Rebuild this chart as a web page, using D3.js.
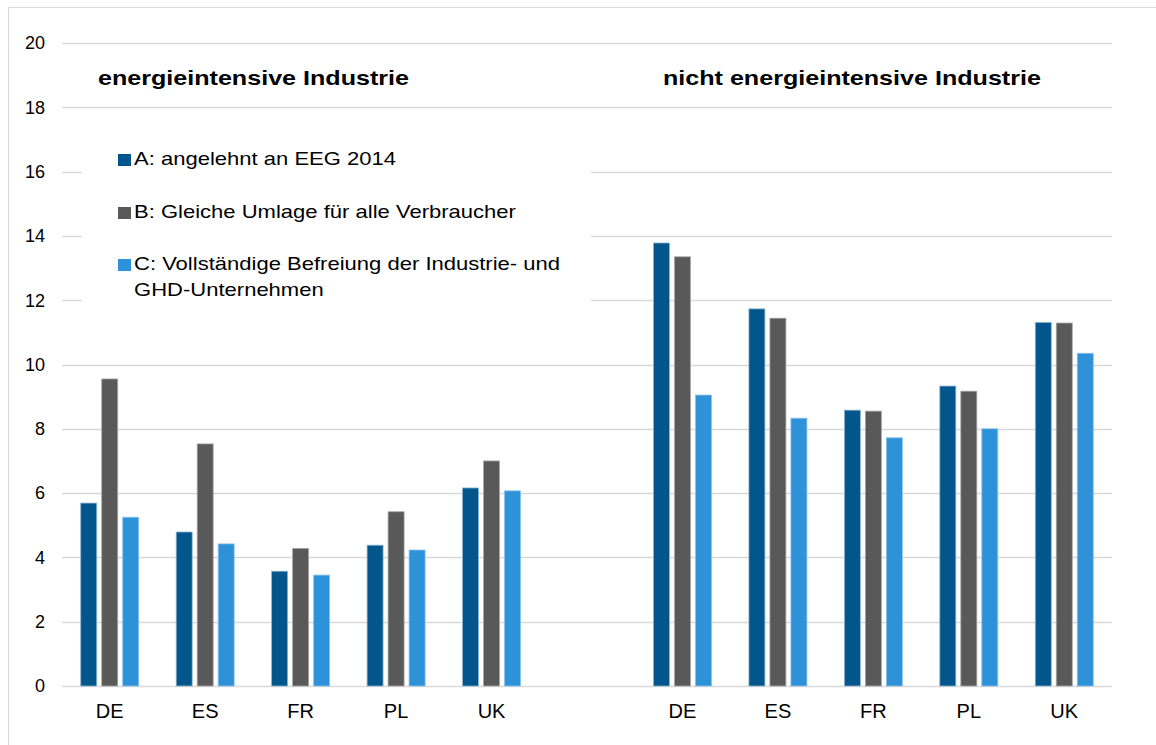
<!DOCTYPE html>
<html>
<head>
<meta charset="utf-8">
<script src="https://cdn.jsdelivr.net/npm/d3@7"></script>
<style>
  body { margin: 0; background: #fff; }
  svg { font-family: "Liberation Sans", Arial, sans-serif; }
</style>
</head>
<body>
<div id="chart"></div>
<script>
// data
const countries = ["DE", "ES", "FR", "PL", "UK"];
const groupTitles = ["energieintensive Industrie", "nicht energieintensive Industrie"];
const seriesNames = [
  "A: angelehnt an EEG 2014",
  "B: Gleiche Umlage für alle Verbraucher",
  "C: Vollständige Befreiung der Industrie- und GHD-Unternehmen"
];
const seriesColors = ["#02568c", "#595959", "#2e92d8"];
const seriesStroke = ["#8fb6d2", "#a6a6a6", "#8cc3ec"];

const intensiveA = [5.69, 4.79, 3.57, 4.38, 6.16];
const intensiveB = [9.55, 7.53, 4.28, 5.42, 7.00];
const intensiveC = [5.25, 4.42, 3.45, 4.23, 6.07];
const nonIntensiveA = [13.78, 11.73, 8.58, 9.33, 11.31];
const nonIntensiveB = [13.35, 11.44, 8.55, 9.17, 11.29];
const nonIntensiveC = [9.05, 8.33, 7.72, 8.00, 10.35];

const yTicks = [0, 2, 4, 6, 8, 10, 12, 14, 16, 18, 20];

const width = 1156, height = 745;
const plot = { left: 62, right: 1112, top: 43, bottom: 686 };

// categories: 5 countries, one empty slot, 5 countries
const slots = countries.map(c => "L_" + c).concat(["gap"], countries.map(c => "R_" + c));
const rows = [];
countries.forEach((c, i) => {
  rows.push({ slot: "L_" + c, label: c, values: [intensiveA[i], intensiveB[i], intensiveC[i]] });
  rows.push({ slot: "R_" + c, label: c, values: [nonIntensiveA[i], nonIntensiveB[i], nonIntensiveC[i]] });
});

const svg = d3.select("#chart").append("svg")
  .attr("width", width)
  .attr("height", height);

// outer frame
svg.append("rect")
  .attr("x", 8.5).attr("y", 7.5)
  .attr("width", 1170).attr("height", 760)
  .attr("fill", "none")
  .attr("stroke", "#d9d9d9");

const x0 = d3.scaleBand().domain(slots).range([plot.left, plot.right]);
const bw = x0.bandwidth();
const x1 = d3.scaleBand().domain([0, 1, 2])
  .range([bw / 2 - 29, bw / 2 + 29])
  .paddingInner(5 / 21);

const y = d3.scaleLinear().domain([0, 20]).range([plot.bottom, plot.top]);

// gridlines
svg.append("g")
  .selectAll("line")
  .data(yTicks)
  .join("line")
  .attr("x1", plot.left).attr("x2", plot.right)
  .attr("y1", d => Math.round(y(d)) + 0.5)
  .attr("y2", d => Math.round(y(d)) + 0.5)
  .attr("stroke", "#d9d9d9")
  .attr("stroke-width", 1.3);

// y tick labels
svg.append("g")
  .selectAll("text")
  .data(yTicks)
  .join("text")
  .attr("x", 45)
  .attr("y", d => y(d))
  .attr("dy", "0.35em")
  .attr("text-anchor", "end")
  .attr("font-size", 18)
  .attr("fill", "#000")
  .text(d => d);

// bars
const groups = svg.append("g")
  .selectAll("g")
  .data(rows)
  .join("g")
  .attr("transform", d => `translate(${x0(d.slot)},0)`);

groups.selectAll("rect")
  .data(d => d.values.map((v, i) => ({ v, i })))
  .join("rect")
  .attr("x", d => x1(d.i))
  .attr("y", d => y(d.v))
  .attr("width", x1.bandwidth())
  .attr("height", d => y(0) - y(d.v))
  .attr("fill", d => seriesColors[d.i])
  .attr("stroke", d => seriesStroke[d.i])
  .attr("stroke-width", 0.8);

// x labels
svg.append("g")
  .selectAll("text")
  .data(rows)
  .join("text")
  .attr("x", d => x0(d.slot) + bw / 2)
  .attr("y", 718)
  .attr("text-anchor", "middle")
  .attr("font-size", 20)
  .attr("fill", "#000")
  .text(d => d.label);

// group titles (reference text is drawn a bit wide)
[[98, groupTitles[0]], [663, groupTitles[1]]].forEach(([tx, label]) => {
  svg.append("text")
    .attr("transform", `translate(${tx},85) scale(1.255,1)`)
    .attr("font-size", 20).attr("font-weight", "bold")
    .text(label);
});

// legend with white box covering gridlines
const legend = svg.append("g");
legend.append("rect")
  .attr("x", 82).attr("y", 130)
  .attr("width", 509).attr("height", 180)
  .attr("fill", "#fff");

const legendRows = [
  { i: 0, lines: [seriesNames[0]], y: 165 },
  { i: 1, lines: [seriesNames[1]], y: 218 },
  { i: 2, lines: ["C: Vollständige Befreiung der Industrie- und", "GHD-Unternehmen"], y: 270 }
];
legendRows.forEach(r => {
  legend.append("rect")
    .attr("x", 118).attr("y", r.y - 11)
    .attr("width", 13).attr("height", 12)
    .attr("fill", seriesColors[r.i]);
  const t = legend.append("text")
    .attr("transform", `translate(134,${r.y}) scale(1.224,1)`)
    .attr("font-size", 18)
    .attr("fill", "#000");
  r.lines.forEach((ln, k) => {
    t.append("tspan")
      .attr("x", 0)
      .attr("y", k * 26)
      .text(ln);
  });
});
</script>
</body>
</html>
